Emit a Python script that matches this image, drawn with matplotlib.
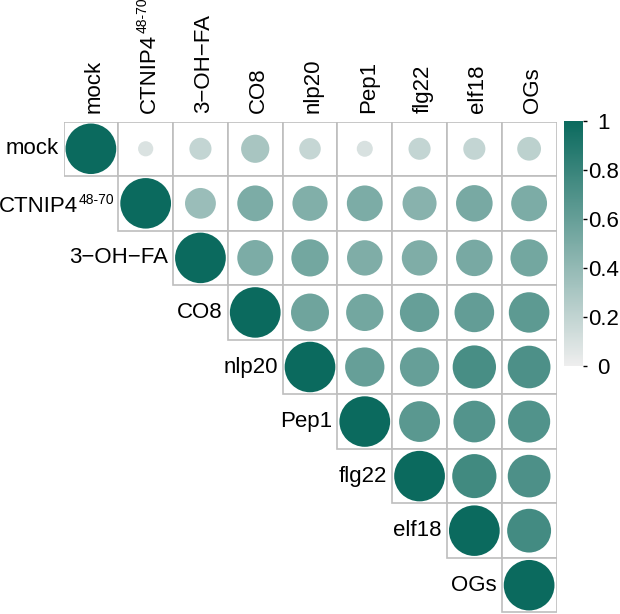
import numpy as np
import matplotlib
matplotlib.use("Agg")
import matplotlib.pyplot as plt
from matplotlib.patches import Circle, Rectangle
from matplotlib.colors import LinearSegmentedColormap, Normalize
from matplotlib.cm import ScalarMappable
from matplotlib.transforms import IdentityTransform

plt.rcParams['font.family'] = ['Liberation Sans', 'DejaVu Sans']

labels = ['mock', 'CTNIP4', '3\u2212OH\u2212FA', 'CO8', 'nlp20',
          'Pep1', 'flg22', 'elf18', 'OGs']
superscripts = ['', '48-70', '', '', '', '', '', '', '']

# upper triangle, row by row (diagonal first)
upper_rows = [
    [1.00, 0.09, 0.19, 0.31, 0.18, 0.10, 0.19, 0.19, 0.22],
    [1.00, 0.37, 0.50, 0.48, 0.50, 0.45, 0.52, 0.50],
    [1.00, 0.50, 0.54, 0.49, 0.49, 0.52, 0.54],
    [1.00, 0.56, 0.54, 0.60, 0.61, 0.64],
    [1.00, 0.60, 0.60, 0.73, 0.71],
    [1.00, 0.65, 0.68, 0.69],
    [1.00, 0.76, 0.71],
    [1.00, 0.75],
    [1.00],
]
cbar_ticks = [0, 0.2, 0.4, 0.6, 0.8, 1]
cbar_labels = ['0', '0.2', '0.4', '0.6', '0.8', '1']

n = len(labels)
cmap = LinearSegmentedColormap.from_list('teal', ['#EEEEEE', '#0B6A5E'])
norm = Normalize(0, 1)
fs = 16
fs_sup = 10

fig = plt.figure(figsize=(6.2, 6.14), dpi=100)
W, H = 620, 614
left, right, top, bottom = 63.5, 556.5, 121.5, 612.5
ax = fig.add_axes([left / W, (H - bottom) / H, (right - left) / W, (bottom - top) / H])
ax.set_xlim(0, n)
ax.set_ylim(n, 0)
ax.axis('off')

for i, row in enumerate(upper_rows):
    for k, v in enumerate(row):
        j = i + k
        ax.add_patch(Rectangle((j, i), 1, 1, facecolor='white',
                               edgecolor='#BEBEBE', linewidth=1.2, zorder=1))
        ax.add_patch(Circle((j + 0.5, i + 0.5), 0.463 * np.sqrt(v),
                            facecolor=cmap(norm(v)), edgecolor='none', zorder=2))

renderer = fig.canvas.get_renderer()
px = IdentityTransform()

for i, (lab, sup) in enumerate(zip(labels, superscripts)):
    # row label (left of the diagonal cell)
    cx, cy = ax.transData.transform((i, i + 0.5))
    if sup:
        s = fig.text(cx - 4.5, cy - 0.5, sup, ha='right', va='baseline',
                     fontsize=fs_sup, transform=px)
        bb = s.get_window_extent(renderer)
        fig.text(bb.x0 - 0.5, cy - 8.4, lab, ha='right', va='baseline',
                 fontsize=fs, transform=px)
    else:
        fig.text(cx - 5, cy, lab, ha='right', va='center', fontsize=fs,
                 transform=px)

    # column label (above the top of the grid)
    colx, _ = ax.transData.transform((i + 0.5, 0))
    base_x = colx + 9
    t = fig.text(base_x, H - 113, lab, ha='left', va='baseline', rotation=90,
                 rotation_mode='anchor', fontsize=fs, transform=px)
    if sup:
        bb = t.get_window_extent(renderer)
        fig.text(base_x - 8.5, bb.y1 + 1, sup, ha='left', va='baseline',
                 rotation=90, rotation_mode='anchor', fontsize=fs_sup,
                 transform=px)

cax = fig.add_axes([564 / W, (H - 366) / H, 19 / W, 245 / H])
cb = fig.colorbar(ScalarMappable(norm=norm, cmap=cmap), cax=cax)
cb.outline.set_visible(False)
cb.set_ticks(cbar_ticks)
cb.set_ticklabels(cbar_labels)
cax.tick_params(length=3, width=1, labelsize=fs, pad=11.5)
for tl in cax.get_yticklabels():
    tl.set_horizontalalignment('center')

fig.savefig('out.png', dpi=100)
